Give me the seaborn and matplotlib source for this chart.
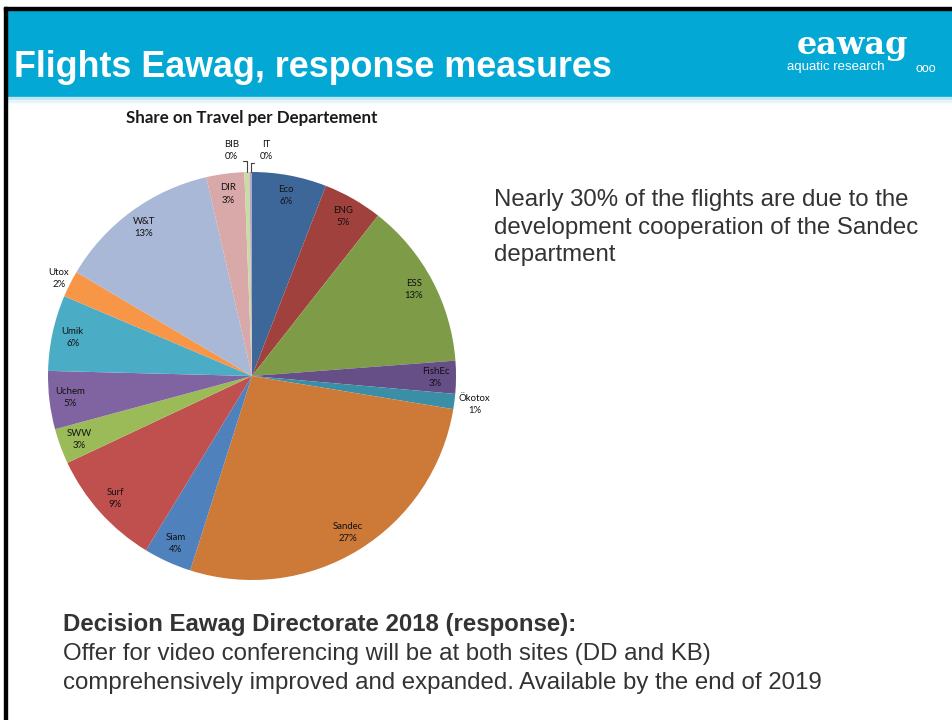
import matplotlib
matplotlib.use("Agg")
import matplotlib.pyplot as plt
import seaborn as sns
import numpy as np
from matplotlib.patches import Rectangle

# ---- data ----
departments = ["Eco", "ENG", "ESS", "FishEc", "Ökotox", "Sandec", "Siam", "Surf",
               "SWW", "Uchem", "Umik", "Utox", "W&T", "DIR", "BIB", "IT"]
shares = [5.9, 4.7, 13.2, 2.6, 1.2, 27.3, 3.8, 9.3, 2.8, 4.6, 6.0, 2.1, 12.9, 3.0, 0.4, 0.2]
slice_colors = ["#3E6799", "#A0413E", "#7E9B48", "#664F86", "#3A8FA6", "#CD7A39",
                "#4F81BD", "#C0504D", "#9BBB59", "#8064A2", "#4BACC6", "#F79646",
                "#A9B8D7", "#D8A9A8", "#C8DCA4", "#B4A7CB"]

slide_title = "Flights Eawag, response measures"
chart_title = "Share on Travel per Departement"
side_text = ["Nearly 30% of the flights are due to the",
             "development cooperation of the Sandec",
             "department"]
decision_head = "Decision Eawag Directorate 2018 (response):"
decision_lines = ["Offer for video conferencing will be at both sites (DD and KB)",
                  "comprehensively improved and expanded. Available by the end of 2019"]

sns.set_theme(style="white")
plt.rcParams["font.family"] = ["Liberation Sans", "DejaVu Sans"]

W, H = 953, 720
fig = plt.figure(figsize=(W / 100, H / 100), dpi=100)
fig.patch.set_facecolor("white")

def fx(x):
    return x / W

def fy(y):
    return 1 - y / H

# ---- slide frame / header ----
blue = "#03A9D4"
fig.patches.append(Rectangle((fx(7), fy(97)), fx(W - 7), (97 - 9) / H,
                             transform=fig.transFigure, color=blue, zorder=0))
fig.patches.append(Rectangle((fx(7), fy(100)), fx(W - 7), 3 / H,
                             transform=fig.transFigure, color="#BFE5F1", zorder=0))
fig.patches.append(Rectangle((fx(7), fy(102)), fx(W - 7), 2 / H,
                             transform=fig.transFigure, color="#E6F5FA", zorder=0))
fig.patches.append(Rectangle((fx(4), fy(9.5)), fx(W - 4), 2.5 / H,
                             transform=fig.transFigure, color="black", zorder=1))
fig.patches.append(Rectangle((fx(4), 0), fx(3), fy(7),
                             transform=fig.transFigure, color="black", zorder=1))

fig.text(fx(14), fy(77), slide_title, color="white", fontsize=25.8, fontweight="bold",
         ha="left", va="baseline")
# logo
fig.text(fx(853), fy(54), "eawag", color="white", fontsize=23, fontweight="bold",
         family="DejaVu Serif", ha="center", va="baseline")
fig.text(fx(836), fy(67), "aquatic research", color="white", fontsize=9.5,
         ha="center", va="center")
fig.text(fx(926), fy(69), "ooo", color="white", fontsize=9, ha="center", va="center")

# ---- pie ----
cx, cy, R = 252, 376, 204
ax = fig.add_axes([fx(cx - R), fy(cy + R), 2 * R / W, 2 * R / H])
palette = sns.color_palette(slice_colors)
wedges, _ = ax.pie(shares, colors=palette, startangle=90, counterclock=False,
                   wedgeprops=dict(linewidth=0))
ax.set_xlim(-1, 1)
ax.set_ylim(-1, 1)
ax.axis("off")

lab_font = dict(family=["Lato", "DejaVu Sans"], fontsize=6.9, color="#111111",
                ha="center", va="center", linespacing=1.45)
for w, name, v in zip(wedges, departments, shares):
    mid = np.deg2rad((w.theta1 + w.theta2) / 2)
    dx, dy = np.cos(mid), np.sin(mid)
    txt = f"{name}\n{round(v)}%"
    if v >= 2.5:
        ax.text(0.9 * dx, 0.9 * dy, txt, **lab_font)
    elif v >= 1.0:
        r = 1.1 if abs(dx) > 0.95 else 1.06
        ax.text(r * dx, r * dy, txt, clip_on=False, **lab_font)
    else:
        side = -1 if name == "BIB" else 1
        y0 = 1.055 if side < 0 else 1.045
        ax.plot([dx, dx, dx + side * 0.017], [dy, y0, y0], color="#404040",
                lw=0.8, clip_on=False)
        ax.text(dx + side * 0.075, 1.105, txt, clip_on=False, **lab_font)

fig.text(fx(252), fy(118), chart_title, family=["Lato", "DejaVu Sans"],
         fontsize=12.2, fontweight="bold", color="#1a1a1a", ha="center", va="center")

# ---- right text ----
for i, line in enumerate(side_text):
    fig.text(fx(494), fy(206 + 27.5 * i), line, fontsize=17.3, color="#333333",
             ha="left", va="baseline")

# ---- bottom text ----
fig.text(fx(63), fy(631), decision_head, fontsize=17.3, fontweight="bold",
         color="#333333", ha="left", va="baseline")
for i, line in enumerate(decision_lines):
    fig.text(fx(63), fy(660 + 29 * i), line, fontsize=17.3, color="#333333",
             ha="left", va="baseline")

fig.savefig("out.png", dpi=100, facecolor="white")
